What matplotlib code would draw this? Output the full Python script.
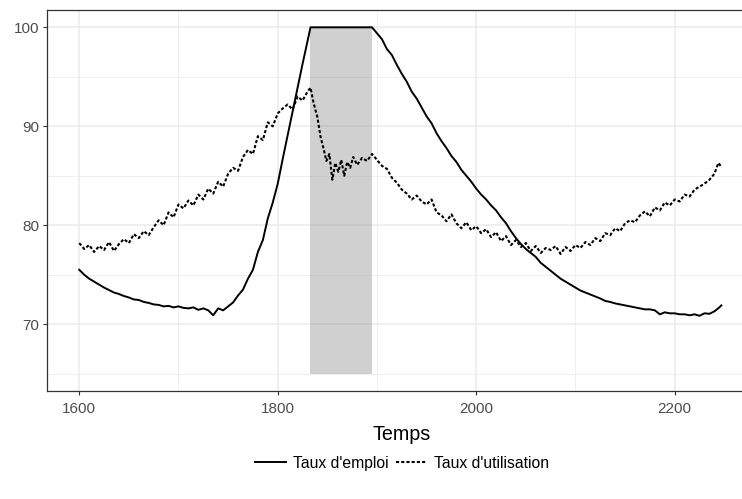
import matplotlib
matplotlib.use("Agg")
import matplotlib.pyplot as plt
from matplotlib.ticker import FixedLocator

plt.rcParams['font.family'] = ['Liberation Sans', 'DejaVu Sans']

# ---------------- data ----------------
emploi_x = [1600, 1605, 1610, 1615, 1620, 1625, 1630, 1635, 1640, 1645,
            1650, 1655, 1660, 1665, 1670, 1675, 1680, 1685, 1690, 1695,
            1700, 1705, 1710, 1715, 1720, 1725, 1730, 1735, 1740, 1745,
            1750, 1755, 1760, 1765, 1770, 1775, 1780, 1785, 1790, 1795,
            1800, 1805, 1810, 1815, 1820, 1825, 1830, 1833,
            1840, 1850, 1860, 1870, 1880, 1890, 1895,
            1900, 1905, 1910, 1915, 1920, 1925, 1930, 1935, 1940, 1945,
            1950, 1955, 1960, 1965, 1970, 1975, 1980, 1985, 1990, 1995,
            2000, 2005, 2010, 2015, 2020, 2025, 2030, 2035, 2040, 2045,
            2050, 2055, 2060, 2065, 2070, 2075, 2080, 2085, 2090, 2095,
            2100, 2105, 2110, 2115, 2120, 2125, 2130, 2135, 2140, 2145,
            2150, 2155, 2160, 2165, 2170, 2175, 2180, 2185, 2190, 2195,
            2200, 2205, 2210, 2215, 2220, 2225, 2230, 2235, 2240, 2245, 2247]
emploi_y = [75.5, 75.0, 74.6, 74.3, 74.0, 73.7, 73.45, 73.2, 73.05, 72.85,
            72.7, 72.5, 72.45, 72.25, 72.15, 72.0, 71.95, 71.8, 71.85, 71.7,
            71.8, 71.65, 71.6, 71.7, 71.45, 71.6, 71.4, 70.9, 71.6, 71.4,
            71.8, 72.2, 72.9, 73.5, 74.6, 75.5, 77.3, 78.5, 80.7, 82.3,
            84.2, 86.7, 89.1, 91.5, 93.9, 96.3, 98.6, 100.0,
            100.0, 100.0, 100.0, 100.0, 100.0, 100.0, 100.0,
            99.4, 98.8, 97.8, 97.2, 96.2, 95.3, 94.5, 93.5, 92.8, 91.9,
            91.0, 90.3, 89.3, 88.5, 87.8, 87.0, 86.4, 85.6, 85.0, 84.4,
            83.7, 83.1, 82.6, 82.0, 81.5, 80.8, 80.2, 79.4, 78.7, 78.1,
            77.6, 77.2, 76.8, 76.2, 75.8, 75.4, 75.0, 74.6, 74.3, 74.0,
            73.7, 73.4, 73.2, 73.0, 72.8, 72.6, 72.35, 72.25, 72.1, 72.0,
            71.9, 71.8, 71.7, 71.6, 71.5, 71.5, 71.4, 71.0, 71.2, 71.1,
            71.1, 71.0, 71.0, 70.9, 71.0, 70.85, 71.1, 71.05, 71.3, 71.7, 71.9]

util_x = [1600, 1605, 1610, 1615, 1620, 1625, 1630, 1635, 1640, 1645,
          1650, 1655, 1660, 1665, 1670, 1675, 1680, 1685, 1690, 1695,
          1700, 1705, 1710, 1715, 1720, 1725, 1730, 1735, 1740, 1745,
          1750, 1755, 1760, 1765, 1770, 1775, 1780, 1785, 1790, 1795,
          1800, 1805, 1810, 1815, 1820, 1825, 1830, 1833, 1836, 1840,
          1843, 1846, 1849, 1852, 1855, 1858, 1861, 1864, 1867, 1870,
          1873, 1876, 1880, 1885, 1890, 1895, 1900, 1905, 1910, 1915,
          1920, 1925, 1930, 1935, 1940, 1945, 1950, 1955, 1960, 1965,
          1970, 1975, 1980, 1985, 1990, 1995, 2000, 2005, 2010, 2015,
          2020, 2025, 2030, 2035, 2040, 2045, 2050, 2055, 2060, 2065,
          2070, 2075, 2080, 2085, 2090, 2095, 2100, 2105, 2110, 2115,
          2120, 2125, 2130, 2135, 2140, 2145, 2150, 2155, 2160, 2165,
          2170, 2175, 2180, 2185, 2190, 2195, 2200, 2205, 2210, 2215,
          2220, 2225, 2230, 2235, 2240, 2244, 2247]
util_y = [78.2, 77.6, 78.0, 77.3, 77.9, 77.5, 78.3, 77.4, 78.1, 78.6,
          78.2, 79.1, 78.7, 79.4, 79.0, 79.8, 80.5, 80.0, 81.3, 80.8,
          82.1, 81.7, 82.5, 82.0, 83.1, 82.6, 83.7, 83.2, 84.4, 83.9,
          85.2, 85.8, 85.5, 86.9, 87.6, 87.2, 89.0, 88.6, 90.4, 90.0,
          91.3, 91.8, 92.2, 91.7, 93.0, 92.6, 93.5, 93.9, 92.4, 90.9,
          89.0, 87.8, 86.5, 87.2, 84.6, 86.3, 85.4, 86.6, 85.0, 86.4,
          85.8, 86.9, 86.1, 86.8, 86.5, 87.2, 86.6, 86.0, 85.7, 84.8,
          84.3, 83.6, 83.2, 82.6, 83.0, 82.4, 82.1, 82.6, 81.3, 81.0,
          80.4, 81.1, 80.2, 79.7, 80.3, 79.5, 79.9, 79.2, 79.6, 78.8,
          79.3, 78.4, 78.9, 78.0, 78.5, 77.8, 78.2, 77.4, 77.9, 77.2,
          77.7, 77.5, 77.9, 77.1, 77.8, 77.4, 78.0, 77.7, 78.3, 78.0,
          78.7, 78.4, 79.2, 79.0, 79.7, 79.4, 80.2, 80.5, 80.3, 81.0,
          81.4, 80.9, 81.8, 81.5, 82.3, 82.0, 82.6, 82.4, 83.1, 82.9,
          83.6, 83.9, 84.2, 84.6, 85.2, 86.3, 85.9]

series_labels = ["Taux d'emploi", "Taux d'utilisation"]
x_ticks = [1600, 1800, 2000, 2200]
y_ticks = [70, 80, 90, 100]
shade_x = [1833, 1895]
shade_y = [65, 100]
x_title = "Temps"

# ---------------- figure ----------------
fig = plt.figure(figsize=(7.42, 4.99), dpi=100)
ax = fig.add_axes([47 / 742, 108 / 499, 709.6 / 742, 381 / 499])

ax.set_xlim(1567.5, 2282.5)
ax.set_ylim(63.25, 101.75)

ax.xaxis.set_major_locator(FixedLocator(x_ticks))
ax.yaxis.set_major_locator(FixedLocator(y_ticks))
ax.xaxis.set_minor_locator(FixedLocator([1700, 1900, 2100]))
ax.yaxis.set_minor_locator(FixedLocator([65, 75, 85, 95]))

ax.grid(which='major', color='#ebebeb', linewidth=1.1)
ax.grid(which='minor', color='#ebebeb', linewidth=0.55)
ax.set_axisbelow(True)

ax.tick_params(which='major', length=3.2, width=0.8, color='#333333',
               labelsize=11, labelcolor='#4d4d4d')
ax.tick_params(axis='x', which='major', pad=5)
ax.tick_params(axis='y', which='major', pad=2.5)
ax.tick_params(which='minor', length=0)

for s in ax.spines.values():
    s.set_color('#333333')
    s.set_linewidth(0.9)

ax.fill_between(shade_x, shade_y[0], shade_y[1], facecolor='#9a979a',
                alpha=0.45, linewidth=0, zorder=1.5)

l1, = ax.plot(emploi_x, emploi_y, color='black', linewidth=1.4,
              label=series_labels[0], zorder=3, solid_joinstyle='round')
l2, = ax.plot(util_x, util_y, color='black', linewidth=1.5,
              linestyle=(0, (1.5, 1.0)), label=series_labels[1], zorder=3)

ax.set_xlabel(x_title, fontsize=14.2, color='black', labelpad=6)

leg = ax.legend(handles=[l1, l2], loc='center', bbox_to_anchor=(0.5, -0.19),
                ncol=2, frameon=False, fontsize=11.3, handlelength=2.0,
                handletextpad=0.4, columnspacing=0.5)

fig.savefig("out.png", dpi=100)
